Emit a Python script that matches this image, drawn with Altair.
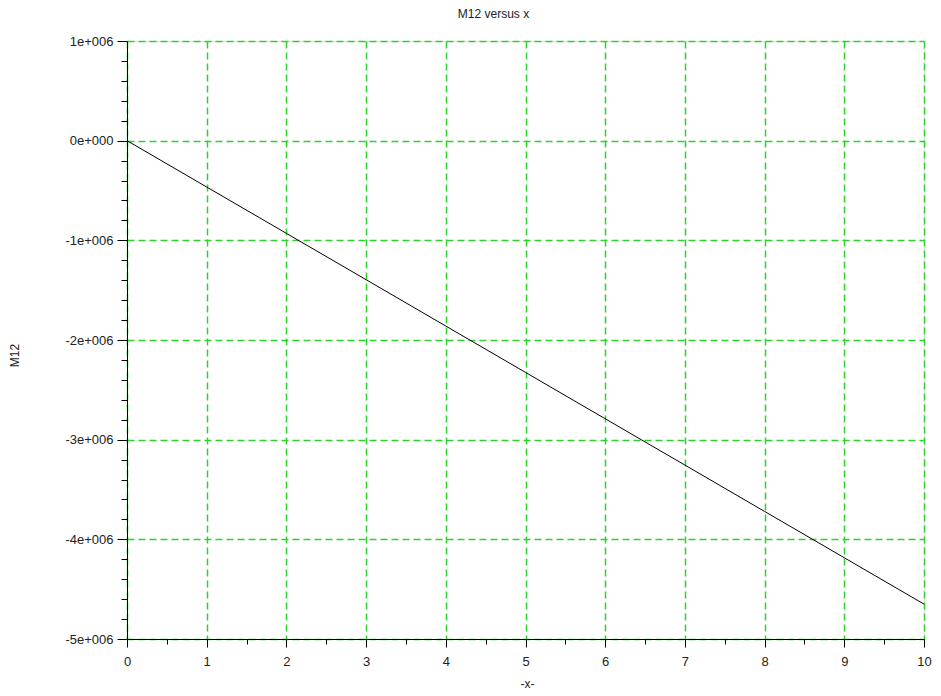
import altair as alt
import pandas as pd

# data (straight line)
x_vals = [0, 1, 2, 3, 4, 5, 6, 7, 8, 9, 10]
m12_vals = [0, -465000, -930000, -1395000, -1860000, -2325000,
            -2790000, -3255000, -3720000, -4185000, -4650000]

x_major = [0, 1, 2, 3, 4, 5, 6, 7, 8, 9, 10]
x_minor = [0.5, 1.5, 2.5, 3.5, 4.5, 5.5, 6.5, 7.5, 8.5, 9.5]
y_major = [1000000, 0, -1000000, -2000000, -3000000, -4000000, -5000000]
y_minor = [800000, 600000, 400000, 200000,
           -200000, -400000, -600000, -800000,
           -1200000, -1400000, -1600000, -1800000,
           -2200000, -2400000, -2600000, -2800000,
           -3200000, -3400000, -3600000, -3800000,
           -4200000, -4400000, -4600000, -4800000]

df = pd.DataFrame({"x": x_vals, "M12": m12_vals})

FONT = "Liberation Sans"
GRID = "#2fd12f"

xs = alt.Scale(domain=[0, 10], nice=False, zero=False)
ys = alt.Scale(domain=[-5000000, 1000000], nice=False, zero=False)

main = alt.Chart(df).mark_line(color="black", strokeWidth=1).encode(
    x=alt.X("x:Q", scale=xs, axis=alt.Axis(
        values=x_major, title="-x-", grid=True, gridColor=GRID,
        gridDash=[7, 4], gridWidth=1.5, gridOpacity=1,
        domainColor="black", tickColor="black", tickSize=8,
        labelFont=FONT, labelFontSize=13, labelColor="#222222",
        labelPadding=8, labelFlush=False,
        titleFont=FONT, titleFontSize=12, titleFontWeight="normal",
        titleColor="#222222", titleX=400, titleY=44,
        titleBaseline="middle", titleAlign="center")),
    y=alt.Y("M12:Q", scale=ys, axis=alt.Axis(
        values=y_major, title="M12", grid=True, gridColor=GRID,
        gridDash=[7, 4], gridWidth=1.5, gridOpacity=1,
        domainColor="black", tickColor="black", tickSize=10,
        labelExpr="datum.value == 0 ? '0e+000' : (datum.value/1000000) + 'e+006'",
        labelFont=FONT, labelFontSize=13, labelColor="#222222",
        labelPadding=4, labelFlush=False,
        titleFont=FONT, titleFontSize=12, titleFontWeight="normal",
        titleColor="#222222", titleX=-113, titleY=314,
        titleBaseline="middle", titleAlign="center", titleAngle=-90)),
)

minor = alt.Chart(df).mark_line(opacity=0).encode(
    x=alt.X("x:Q", scale=xs, axis=alt.Axis(
        orient="bottom", values=x_minor, title=None, labels=False,
        grid=False, domain=False, tickColor="black", tickSize=5)),
    y=alt.Y("M12:Q", scale=ys, axis=alt.Axis(
        orient="left", values=y_minor, title=None, labels=False,
        grid=False, domain=False, tickColor="black", tickSize=6)),
)

chart = alt.layer(main, minor).resolve_scale(
    x="independent", y="independent"
).properties(
    width=797, height=598,
    title=alt.TitleParams("M12 versus x", font=FONT, fontSize=12,
                          fontWeight="normal", color="#222222",
                          anchor="middle", frame="group", dx=-32, offset=14),
    autosize=alt.AutoSizeParams(type="none"),
    padding={"left": 119, "top": 33, "right": 9, "bottom": 56},
).configure_view(stroke=None).configure(background="white")

chart.save("out.html", embed_options={"renderer": "svg", "actions": False})
